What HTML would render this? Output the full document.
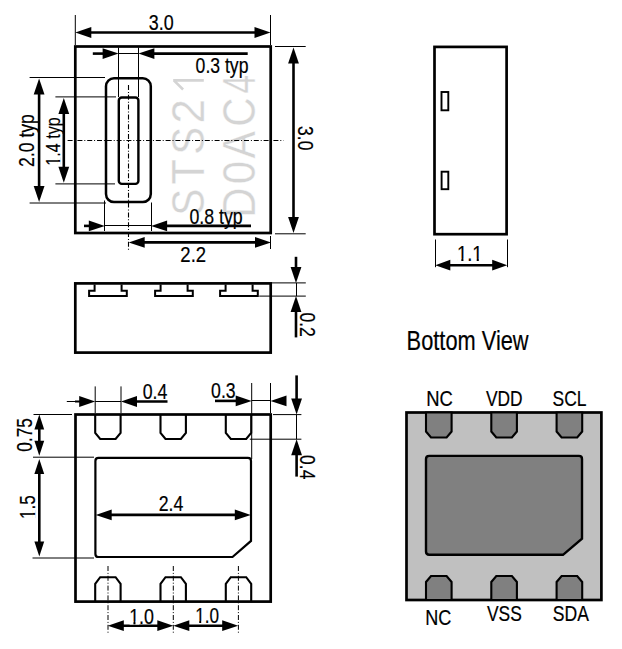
<!DOCTYPE html>
<html><head><meta charset="utf-8"><style>
html,body{margin:0;padding:0;background:#fff;width:622px;height:649px;overflow:hidden}
svg{display:block}
text{font-family:"Liberation Sans",sans-serif}
</style></head><body>
<svg width="622" height="649" viewBox="0 0 622 649">
<g transform="translate(203.80,215.66) rotate(-90) scale(0.894,1)"><text font-size="45.35" fill="#d4d4d4">S</text></g>
<g transform="translate(203.80,215.66) rotate(-90) scale(0.894,1)"><text font-size="45.35" fill="none" stroke="#fff" stroke-width="0.35">S</text></g>
<g transform="translate(203.80,184.62) rotate(-90) scale(0.919,1)"><text font-size="45.35" fill="#d4d4d4">T</text></g>
<g transform="translate(203.80,184.62) rotate(-90) scale(0.919,1)"><text font-size="45.35" fill="none" stroke="#fff" stroke-width="0.35">T</text></g>
<g transform="translate(203.80,154.73) rotate(-90) scale(0.924,1)"><text font-size="45.35" fill="#d4d4d4">S</text></g>
<g transform="translate(203.80,154.73) rotate(-90) scale(0.924,1)"><text font-size="45.35" fill="none" stroke="#fff" stroke-width="0.35">S</text></g>
<g transform="translate(203.80,123.59) rotate(-90) scale(0.967,1)"><text font-size="45.35" fill="#d4d4d4">2</text></g>
<g transform="translate(203.80,123.59) rotate(-90) scale(0.967,1)"><text font-size="45.35" fill="none" stroke="#fff" stroke-width="0.35">2</text></g>
<path d="M173.2,80.4 L203.8,80.4 M173.79999999999998,80.4 L183.1,89.5" stroke="#d4d4d4" stroke-width="2.6" fill="none"/>
<g transform="translate(254.50,218.06) rotate(-90) scale(0.931,1)"><text font-size="45.35" fill="#d4d4d4">D</text></g>
<g transform="translate(254.50,218.06) rotate(-90) scale(0.931,1)"><text font-size="45.35" fill="none" stroke="#fff" stroke-width="0.35">D</text></g>
<g transform="translate(254.50,184.24) rotate(-90) scale(0.927,1)"><text font-size="45.35" fill="#d4d4d4">0</text></g>
<g transform="translate(254.50,184.24) rotate(-90) scale(0.927,1)"><text font-size="45.35" fill="none" stroke="#fff" stroke-width="0.35">0</text></g>
<g transform="translate(254.50,158.48) rotate(-90) scale(0.908,1)"><text font-size="45.35" fill="#d4d4d4">A</text></g>
<g transform="translate(254.50,158.48) rotate(-90) scale(0.908,1)"><text font-size="45.35" fill="none" stroke="#fff" stroke-width="0.35">A</text></g>
<g transform="translate(254.50,126.77) rotate(-90) scale(0.895,1)"><text font-size="45.35" fill="#d4d4d4">C</text></g>
<g transform="translate(254.50,126.77) rotate(-90) scale(0.895,1)"><text font-size="45.35" fill="none" stroke="#fff" stroke-width="0.35">C</text></g>
<g transform="translate(254.50,93.57) rotate(-90) scale(0.735,1)"><text font-size="45.35" fill="#d4d4d4">4</text></g>
<g transform="translate(254.50,93.57) rotate(-90) scale(0.735,1)"><text font-size="45.35" fill="none" stroke="#fff" stroke-width="0.35">4</text></g>
<rect x="75.3" y="46.5" width="195.40" height="186.50" rx="0" fill="none" stroke="#000" stroke-width="2.7"/>
<line x1="67.6" y1="140.5" x2="283.5" y2="140.5" stroke="#000" stroke-width="1.1" stroke-dasharray="5 1.9 1 1.9"/>
<line x1="128.5" y1="85" x2="128.5" y2="251" stroke="#000" stroke-width="1.1" stroke-dasharray="5 1.9 1 1.9"/>
<rect x="106.0" y="78.2" width="44.80" height="123.90" rx="8" fill="none" stroke="#000" stroke-width="2.5"/>
<rect x="118.8" y="97.5" width="19.60" height="86.40" rx="3" fill="none" stroke="#000" stroke-width="2.4"/>
<line x1="75.3" y1="15" x2="75.3" y2="45" stroke="#000" stroke-width="1.0"/>
<line x1="270.5" y1="15" x2="270.5" y2="45" stroke="#000" stroke-width="1.0"/>
<line x1="80" y1="32.5" x2="266" y2="32.5" stroke="#000" stroke-width="2.6"/>
<polygon points="75.30,32.50 91.30,27.10 91.30,37.90" fill="#000"/>
<polygon points="270.50,32.50 254.50,27.10 254.50,37.90" fill="#000"/>
<g transform="translate(148.82,29.68) scale(0.807,1)"><text font-size="22.18" fill="#000" stroke="#000" stroke-width="0.2">3.0</text></g>
<line x1="275" y1="46.5" x2="305.7" y2="46.5" stroke="#000" stroke-width="1.0"/>
<line x1="275" y1="233.8" x2="305.7" y2="233.8" stroke="#000" stroke-width="1.0"/>
<line x1="293.5" y1="52" x2="293.5" y2="228" stroke="#000" stroke-width="2.6"/>
<polygon points="293.50,47.50 288.10,63.50 298.90,63.50" fill="#000"/>
<polygon points="293.50,233.00 288.10,217.00 298.90,217.00" fill="#000"/>
<g transform="translate(298.32,126.03) rotate(90) scale(0.795,1)"><text font-size="22.03" fill="#000" stroke="#000" stroke-width="0.2">3.0</text></g>
<line x1="118.5" y1="47.5" x2="118.5" y2="97" stroke="#000" stroke-width="1.0"/>
<line x1="138.5" y1="47.5" x2="138.5" y2="97" stroke="#000" stroke-width="1.0"/>
<line x1="92.8" y1="53.6" x2="104" y2="53.6" stroke="#000" stroke-width="2.6"/>
<polygon points="118.60,53.60 102.60,48.20 102.60,59.00" fill="#000"/>
<line x1="118.6" y1="53.5" x2="138.6" y2="53.5" stroke="#000" stroke-width="1.0"/>
<polygon points="138.40,53.60 154.40,48.20 154.40,59.00" fill="#000"/>
<line x1="150" y1="53.6" x2="247.7" y2="53.6" stroke="#000" stroke-width="2.6"/>
<g transform="translate(195.61,73.10) scale(0.813,1)"><text font-size="21.66" fill="#000" stroke="#000" stroke-width="0.2">0.3 typ</text></g>
<line x1="29.6" y1="77.5" x2="105" y2="77.5" stroke="#000" stroke-width="1.0"/>
<line x1="29.6" y1="203" x2="106" y2="203" stroke="#000" stroke-width="1.0"/>
<line x1="39.1" y1="90" x2="39.1" y2="190" stroke="#000" stroke-width="2.6"/>
<polygon points="39.10,78.50 33.70,94.50 44.50,94.50" fill="#000"/>
<polygon points="39.10,202.00 33.70,186.00 44.50,186.00" fill="#000"/>
<g transform="translate(33.80,166.88) rotate(-90) scale(0.786,1)"><text font-size="22.38" fill="#000" stroke="#000" stroke-width="0.2">2.0 typ</text></g>
<line x1="55.4" y1="96.9" x2="116" y2="96.9" stroke="#000" stroke-width="1.0"/>
<line x1="55.4" y1="183.9" x2="115" y2="183.9" stroke="#000" stroke-width="1.0"/>
<line x1="63.8" y1="110" x2="63.8" y2="170" stroke="#000" stroke-width="2.6"/>
<polygon points="63.80,98.00 58.40,114.00 69.20,114.00" fill="#000"/>
<polygon points="63.80,182.70 58.40,166.70 69.20,166.70" fill="#000"/>
<g transform="translate(59.80,165.65) rotate(-90) scale(0.791,1)"><text font-size="20.35" fill="#000" stroke="#000" stroke-width="0.2">1.4 typ</text><rect x="0.42" y="-1.98" width="4.39" height="2.88" fill="#fff"/><rect x="7.20" y="-1.98" width="4.48" height="2.88" fill="#fff"/></g>
<line x1="104.5" y1="200.5" x2="104.5" y2="231" stroke="#000" stroke-width="1.0"/>
<line x1="151.5" y1="202.5" x2="151.5" y2="231" stroke="#000" stroke-width="1.0"/>
<line x1="84" y1="225.9" x2="92" y2="225.9" stroke="#000" stroke-width="2.6"/>
<polygon points="104.80,225.90 88.80,220.50 88.80,231.30" fill="#000"/>
<line x1="104.8" y1="225.5" x2="151.1" y2="225.5" stroke="#000" stroke-width="1.0"/>
<polygon points="151.10,225.90 167.10,220.50 167.10,231.30" fill="#000"/>
<line x1="163" y1="225.9" x2="251" y2="225.9" stroke="#000" stroke-width="2.6"/>
<g transform="translate(189.41,224.20) scale(0.803,1)"><text font-size="22.09" fill="#000" stroke="#000" stroke-width="0.2">0.8 typ</text></g>
<line x1="270.5" y1="236" x2="270.5" y2="249" stroke="#000" stroke-width="1.0"/>
<line x1="140" y1="242.4" x2="260" y2="242.4" stroke="#000" stroke-width="2.6"/>
<polygon points="128.70,242.40 144.70,237.00 144.70,247.80" fill="#000"/>
<polygon points="271.00,242.40 255.00,237.00 255.00,247.80" fill="#000"/>
<g transform="translate(180.37,261.90) scale(0.851,1)"><text font-size="21.78" fill="#000" stroke="#000" stroke-width="0.2">2.2</text></g>
<rect x="75.3" y="283.4" width="195.40" height="69.20" rx="0" fill="none" stroke="#000" stroke-width="2.7"/>
<path d="M94.6,284.5 L94.6,290.8 L89.1,290.8 L89.1,295.9 L126.8,295.9 L126.8,290.8 L121.6,290.8 L121.6,284.5" fill="none" stroke="#000" stroke-width="2.0"/>
<path d="M160.6,284.5 L160.6,290.8 L155.1,290.8 L155.1,295.9 L192.8,295.9 L192.8,290.8 L187.6,290.8 L187.6,284.5" fill="none" stroke="#000" stroke-width="2.0"/>
<path d="M225.6,284.5 L225.6,290.8 L220.1,290.8 L220.1,295.9 L257.8,295.9 L257.8,290.8 L252.6,290.8 L252.6,284.5" fill="none" stroke="#000" stroke-width="2.0"/>
<line x1="271.5" y1="282.9" x2="305.8" y2="282.9" stroke="#000" stroke-width="1.0"/>
<line x1="259.2" y1="296.1" x2="305.8" y2="296.1" stroke="#000" stroke-width="1.0"/>
<line x1="296.0" y1="256.8" x2="296.0" y2="270" stroke="#000" stroke-width="2.6"/>
<polygon points="296.00,283.00 290.60,267.00 301.40,267.00" fill="#000"/>
<line x1="296.5" y1="283.0" x2="296.5" y2="296.1" stroke="#000" stroke-width="1.0"/>
<polygon points="296.00,296.10 290.60,312.10 301.40,312.10" fill="#000"/>
<line x1="296.0" y1="308" x2="296.0" y2="337.4" stroke="#000" stroke-width="2.6"/>
<g transform="translate(299.92,312.41) rotate(90) scale(0.809,1)"><text font-size="21.75" fill="#000" stroke="#000" stroke-width="0.2">0.2</text></g>
<rect x="434.5" y="46.9" width="72.10" height="187.30" rx="0" fill="none" stroke="#000" stroke-width="2.7"/>
<rect x="441.5" y="92.0" width="6.80" height="18.30" rx="0" fill="none" stroke="#000" stroke-width="1.9"/>
<rect x="441.6" y="171.7" width="6.70" height="17.50" rx="0" fill="none" stroke="#000" stroke-width="1.9"/>
<line x1="435.5" y1="239.5" x2="435.5" y2="267.2" stroke="#000" stroke-width="1.0"/>
<line x1="507.5" y1="239.5" x2="507.5" y2="267.2" stroke="#000" stroke-width="1.0"/>
<line x1="445" y1="265.2" x2="497" y2="265.2" stroke="#000" stroke-width="2.6"/>
<polygon points="435.30,265.20 450.30,259.80 450.30,270.60" fill="#000"/>
<polygon points="507.20,265.20 492.20,259.80 492.20,270.60" fill="#000"/>
<g transform="translate(456.93,260.90) scale(0.803,1)"><text font-size="22.97" fill="#000" stroke="#000" stroke-width="0.2">1.1</text><rect x="0.58" y="-2.17" width="4.89" height="3.07" fill="#fff"/><rect x="8.09" y="-2.17" width="4.96" height="3.07" fill="#fff"/><rect x="19.73" y="-2.17" width="4.89" height="3.07" fill="#fff"/><rect x="27.24" y="-2.17" width="4.96" height="3.07" fill="#fff"/></g>
<rect x="75.5" y="414.5" width="195.20" height="187.10" rx="0" fill="none" stroke="#000" stroke-width="2.7"/>
<path d="M95.2,414.5 L95.2,432.8 L100.2,439.0 L115.6,439.0 L120.6,432.8 L120.6,414.5" fill="none" stroke="#000" stroke-width="2.1"/>
<path d="M95.2,601.6 L95.2,583.8000000000001 L100.2,577.2 L115.6,577.2 L120.6,583.8000000000001 L120.6,601.6" fill="none" stroke="#000" stroke-width="2.1"/>
<path d="M160.5,414.5 L160.5,432.8 L165.5,439.0 L180.9,439.0 L185.9,432.8 L185.9,414.5" fill="none" stroke="#000" stroke-width="2.1"/>
<path d="M160.5,601.6 L160.5,583.8000000000001 L165.5,577.2 L180.9,577.2 L185.9,583.8000000000001 L185.9,601.6" fill="none" stroke="#000" stroke-width="2.1"/>
<path d="M225.8,414.5 L225.8,432.8 L230.8,439.0 L246.20000000000002,439.0 L251.20000000000002,432.8 L251.20000000000002,414.5" fill="none" stroke="#000" stroke-width="2.1"/>
<path d="M225.8,601.6 L225.8,583.8000000000001 L230.8,577.2 L246.20000000000002,577.2 L251.20000000000002,583.8000000000001 L251.20000000000002,601.6" fill="none" stroke="#000" stroke-width="2.1"/>
<path d="M98.5,457.8 L247.9,457.8 Q251.0,457.8 251.0,460.9 L251.0,540.9 L232.5,557.0 L98.5,557.0 Q95.4,557.0 95.4,553.9 L95.4,460.9 Q95.4,457.8 98.5,457.8 Z" fill="none" stroke="#000" stroke-width="2.2"/>
<line x1="108.0" y1="566" x2="108.0" y2="634" stroke="#000" stroke-width="1.0" stroke-dasharray="5 1.9 1 1.9"/>
<line x1="173.3" y1="566" x2="173.3" y2="634" stroke="#000" stroke-width="1.0" stroke-dasharray="5 1.9 1 1.9"/>
<line x1="238.4" y1="566" x2="238.4" y2="634" stroke="#000" stroke-width="1.0" stroke-dasharray="5 1.9 1 1.9"/>
<line x1="95.2" y1="386.4" x2="95.2" y2="413" stroke="#000" stroke-width="1.0"/>
<line x1="121.0" y1="386.4" x2="121.0" y2="413" stroke="#000" stroke-width="1.0"/>
<line x1="66.8" y1="401.5" x2="80" y2="401.5" stroke="#000" stroke-width="1.0"/>
<line x1="75" y1="401.5" x2="80" y2="401.5" stroke="#000" stroke-width="2.0"/>
<polygon points="95.20,401.50 79.20,396.10 79.20,406.90" fill="#000"/>
<line x1="95.2" y1="401.5" x2="121.0" y2="401.5" stroke="#000" stroke-width="1.0"/>
<polygon points="121.00,401.50 137.00,396.10 137.00,406.90" fill="#000"/>
<line x1="132" y1="401.5" x2="167.5" y2="401.5" stroke="#000" stroke-width="2.6"/>
<g transform="translate(142.71,398.68) scale(0.788,1)"><text font-size="22.46" fill="#000" stroke="#000" stroke-width="0.2">0.4</text></g>
<line x1="251.7" y1="383" x2="251.7" y2="459" stroke="#000" stroke-width="1.0"/>
<line x1="270.5" y1="383" x2="270.5" y2="413" stroke="#000" stroke-width="1.0"/>
<line x1="215" y1="400.9" x2="240" y2="400.9" stroke="#000" stroke-width="2.6"/>
<polygon points="251.70,400.90 235.70,395.50 235.70,406.30" fill="#000"/>
<line x1="251.7" y1="400.5" x2="270.5" y2="400.5" stroke="#000" stroke-width="1.0"/>
<polygon points="270.50,400.90 286.50,395.50 286.50,406.30" fill="#000"/>
<g transform="translate(211.11,397.58) scale(0.797,1)"><text font-size="22.18" fill="#000" stroke="#000" stroke-width="0.2">0.3</text></g>
<line x1="273" y1="414.6" x2="301.4" y2="414.6" stroke="#000" stroke-width="1.0"/>
<line x1="249.8" y1="439.2" x2="301.4" y2="439.2" stroke="#000" stroke-width="1.0"/>
<line x1="296.6" y1="375.4" x2="296.6" y2="402" stroke="#000" stroke-width="2.6"/>
<polygon points="296.60,414.60 291.20,398.60 302.00,398.60" fill="#000"/>
<line x1="296.5" y1="414.6" x2="296.5" y2="439.2" stroke="#000" stroke-width="1.0"/>
<polygon points="296.60,439.20 291.20,455.20 302.00,455.20" fill="#000"/>
<line x1="296.6" y1="450" x2="296.6" y2="476.6" stroke="#000" stroke-width="2.6"/>
<g transform="translate(300.22,455.12) rotate(90) scale(0.790,1)"><text font-size="22.03" fill="#000" stroke="#000" stroke-width="0.2">0.4</text></g>
<line x1="33.5" y1="414.5" x2="72" y2="414.5" stroke="#000" stroke-width="1.0"/>
<line x1="33.0" y1="457.2" x2="94" y2="457.2" stroke="#000" stroke-width="1.0"/>
<line x1="32.5" y1="558.0" x2="94" y2="558.0" stroke="#000" stroke-width="1.0"/>
<line x1="39.3" y1="425" x2="39.3" y2="446" stroke="#000" stroke-width="2.6"/>
<polygon points="39.30,414.60 34.40,429.60 44.20,429.60" fill="#000"/>
<polygon points="39.30,455.80 34.40,440.80 44.20,440.80" fill="#000"/>
<line x1="39.3" y1="468" x2="39.3" y2="546" stroke="#000" stroke-width="2.6"/>
<polygon points="39.30,458.90 34.40,473.90 44.20,473.90" fill="#000"/>
<polygon points="39.30,556.60 34.40,541.60 44.20,541.60" fill="#000"/>
<g transform="translate(32.00,451.67) rotate(-90) scale(0.781,1)"><text font-size="22.09" fill="#000" stroke="#000" stroke-width="0.2">0.75</text></g>
<g transform="translate(34.80,518.94) rotate(-90) scale(0.759,1)"><text font-size="22.53" fill="#000" stroke="#000" stroke-width="0.2">1.5</text><rect x="0.55" y="-2.14" width="4.80" height="3.04" fill="#fff"/><rect x="7.94" y="-2.14" width="4.88" height="3.04" fill="#fff"/></g>
<line x1="108" y1="514.9" x2="238" y2="514.9" stroke="#000" stroke-width="2.6"/>
<polygon points="95.70,514.90 111.70,509.50 111.70,520.30" fill="#000"/>
<polygon points="250.80,514.90 234.80,509.50 234.80,520.30" fill="#000"/>
<g transform="translate(158.72,510.80) scale(0.787,1)"><text font-size="22.49" fill="#000" stroke="#000" stroke-width="0.2">2.4</text></g>
<line x1="118" y1="625.7" x2="163" y2="625.7" stroke="#000" stroke-width="2.6"/>
<polygon points="107.80,625.70 123.80,620.30 123.80,631.10" fill="#000"/>
<polygon points="173.30,625.70 157.30,620.30 157.30,631.10" fill="#000"/>
<line x1="184" y1="625.7" x2="228" y2="625.7" stroke="#000" stroke-width="2.6"/>
<polygon points="173.30,625.70 189.30,620.30 189.30,631.10" fill="#000"/>
<polygon points="238.20,625.70 222.20,620.30 222.20,631.10" fill="#000"/>
<g transform="translate(129.19,623.68) scale(0.795,1)"><text font-size="22.46" fill="#000" stroke="#000" stroke-width="0.2">1.0</text><rect x="0.55" y="-2.13" width="4.79" height="3.03" fill="#fff"/><rect x="7.91" y="-2.13" width="4.86" height="3.03" fill="#fff"/></g>
<g transform="translate(195.16,622.98) scale(0.768,1)"><text font-size="22.32" fill="#000" stroke="#000" stroke-width="0.2">1.0</text><rect x="0.54" y="-2.12" width="4.76" height="3.02" fill="#fff"/><rect x="7.87" y="-2.12" width="4.84" height="3.02" fill="#fff"/></g>
<g transform="translate(406.61,349.80) scale(0.803,1)"><text font-size="27.18" fill="#000" stroke="#000" stroke-width="0.2">Bottom View</text></g>
<rect x="406.5" y="412.5" width="194.90" height="187.50" rx="0" fill="#c0c0c0" stroke="#000" stroke-width="2.7"/>
<path d="M426.0,412.5 L426.0,431.5 L431.0,437.5 L446.6,437.5 L451.6,431.5 L451.6,412.5 Z" fill="#808080" stroke="#000" stroke-width="2.1"/>
<path d="M426.0,600.0 L426.0,582.0 L431.0,576.0 L446.6,576.0 L451.6,582.0 L451.6,600.0 Z" fill="#808080" stroke="#000" stroke-width="2.1"/>
<path d="M491.3,412.5 L491.3,431.5 L496.3,437.5 L511.9,437.5 L516.9,431.5 L516.9,412.5 Z" fill="#808080" stroke="#000" stroke-width="2.1"/>
<path d="M491.3,600.0 L491.3,582.0 L496.3,576.0 L511.9,576.0 L516.9,582.0 L516.9,600.0 Z" fill="#808080" stroke="#000" stroke-width="2.1"/>
<path d="M556.6,412.5 L556.6,431.5 L561.6,437.5 L577.2,437.5 L582.2,431.5 L582.2,412.5 Z" fill="#808080" stroke="#000" stroke-width="2.1"/>
<path d="M556.6,600.0 L556.6,582.0 L561.6,576.0 L577.2,576.0 L582.2,582.0 L582.2,600.0 Z" fill="#808080" stroke="#000" stroke-width="2.1"/>
<path d="M429.2,455.9 L579.0,455.9 Q582.0,455.9 582.0,458.9 L582.0,538.7 L563.0,554.8 L429.2,554.8 Q426.0,554.8 426.0,551.6 L426.0,459.1 Q426.0,455.9 429.2,455.9 Z" fill="#808080" stroke="#000" stroke-width="2.4"/>
<g transform="translate(426.29,405.68) scale(0.847,1)"><text font-size="21.75" fill="#000" stroke="#000" stroke-width="0.2">NC</text></g>
<g transform="translate(485.91,405.60) scale(0.787,1)"><text font-size="22.09" fill="#000" stroke="#000" stroke-width="0.2">VDD</text></g>
<g transform="translate(552.60,405.78) scale(0.793,1)"><text font-size="22.03" fill="#000" stroke="#000" stroke-width="0.2">SCL</text></g>
<g transform="translate(425.32,624.58) scale(0.825,1)"><text font-size="21.89" fill="#000" stroke="#000" stroke-width="0.2">NC</text></g>
<g transform="translate(487.01,621.48) scale(0.796,1)"><text font-size="21.89" fill="#000" stroke="#000" stroke-width="0.2">VSS</text></g>
<g transform="translate(552.79,621.48) scale(0.813,1)"><text font-size="21.61" fill="#000" stroke="#000" stroke-width="0.2">SDA</text></g>
</svg>
</body></html>
